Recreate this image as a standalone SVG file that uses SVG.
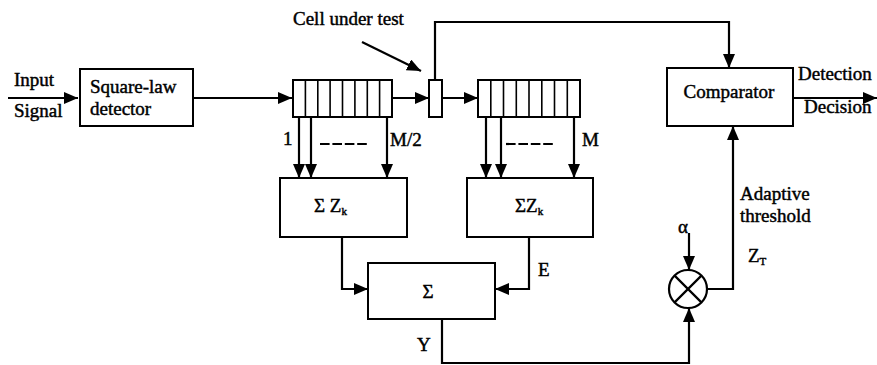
<svg xmlns="http://www.w3.org/2000/svg" width="877" height="365" viewBox="0 0 877 365">
<defs>
<style>
.box{fill:#fff;stroke:#000;stroke-width:2}
.ln{fill:none;stroke:#000;stroke-width:2.2}
.t{font-size:19px;fill:#000;stroke:#000;stroke-width:0.45}
.c{text-anchor:middle}
.cell{stroke:#000;stroke-width:1.6}
</style>
<marker id="ah" viewBox="0 0 14 12" refX="14" refY="6" markerWidth="14" markerHeight="12" markerUnits="userSpaceOnUse" orient="auto">
<path d="M0,0 L14,6 L0,12 Z" fill="#000"/>
</marker>
</defs>
<rect width="877" height="365" fill="#fff"/>

<g id="connectors">
<path class="ln" d="M8,98 H78" marker-end="url(#ah)"/>
<path class="ln" d="M193,98 H292" marker-end="url(#ah)"/>
<path class="ln" d="M392,98 H429" marker-end="url(#ah)"/>
<path class="ln" d="M442,98 H478" marker-end="url(#ah)"/>
<path class="ln" d="M435,80 V22 H729 V68" marker-end="url(#ah)"/>
<path class="ln" d="M793,98 H877" marker-end="url(#ah)"/>
<path class="ln" d="M362,42 L421,71" marker-end="url(#ah)"/>
<path class="ln" d="M299,117 V178" marker-end="url(#ah)"/>
<path class="ln" d="M311,117 V178" marker-end="url(#ah)"/>
<path class="ln" d="M387,117 V178" marker-end="url(#ah)"/>
<path class="ln" d="M486,117 V178" marker-end="url(#ah)"/>
<path class="ln" d="M501,117 V178" marker-end="url(#ah)"/>
<path class="ln" d="M574,117 V178" marker-end="url(#ah)"/>
<path class="ln" d="M342,237 V289 H368" marker-end="url(#ah)"/>
<path class="ln" d="M529,237 V289 H495" marker-end="url(#ah)"/>
<path class="ln" d="M442,319 V363 H689 V308" marker-end="url(#ah)"/>
<path class="ln" d="M689,233 V270" marker-end="url(#ah)"/>
<path class="ln" d="M707,289 H733 V126" marker-end="url(#ah)"/>
<path class="ln" d="M320,144 H368" stroke-dasharray="9.6 2.8" stroke-width="2.6"/>
<path class="ln" d="M506,144 H553" stroke-dasharray="9.6 2.8" stroke-width="2.6"/>
</g>

<g font-family="Liberation Serif, Times New Roman, serif">
<g id="input-label">
<text class="t" x="14" y="86">Input</text>
<text class="t" x="14" y="117">Signal</text>
</g>

<g id="square-law">
<rect class="box" x="80" y="69" width="113" height="57"/>
<text class="t" x="90" y="93">Square-law</text>
<text class="t" x="90" y="115">detector</text>
</g>

<g id="register1">
<rect class="box" x="293" y="80" width="99" height="37"/>
<path class="cell" d="M305.4,80V117M317.8,80V117M330.1,80V117M342.5,80V117M354.9,80V117M367.3,80V117M379.6,80V117"/>
<text class="t" x="283" y="145">1</text>
<text class="t" x="390" y="146">M/2</text>
</g>

<g id="cell-under-test">
<rect class="box" x="429" y="80" width="13" height="37"/>
<text class="t" x="293" y="25">Cell under test</text>
</g>

<g id="register2">
<rect class="box" x="478" y="80" width="102" height="37"/>
<path class="cell" d="M490.8,80V117M503.5,80V117M516.3,80V117M529,80V117M541.8,80V117M554.5,80V117M567.3,80V117"/>
<text class="t" x="582" y="146">M</text>
</g>

<g id="sum1">
<rect class="box" x="280" y="178" width="127" height="59"/>
<text class="t" x="314" y="212">Σ Z<tspan font-size="11" dy="3">k</tspan></text>
</g>

<g id="sum2">
<rect class="box" x="467" y="178" width="126" height="59"/>
<text class="t" x="515" y="212">ΣZ<tspan font-size="11" dy="3">k</tspan></text>
</g>

<g id="sum-total">
<rect class="box" x="368" y="263" width="127" height="56"/>
<text class="t c" x="428" y="298">Σ</text>
<text class="t" x="538" y="276">E</text>
<text class="t" x="417" y="351">Y</text>
</g>

<g id="multiplier">
<circle cx="688" cy="289" r="19" fill="#fff" stroke="#000" stroke-width="2.2"/>
<path class="ln" d="M674.6,275.6 L701.4,302.4 M701.4,275.6 L674.6,302.4"/>
<text class="t" x="678" y="233">α</text>
</g>

<g id="threshold-label">
<text class="t" x="740" y="200">Adaptive</text>
<text class="t" x="740" y="222">threshold</text>
<text class="t" x="748" y="262">Z<tspan font-size="11" dy="3">T</tspan></text>
</g>

<g id="comparator">
<rect class="box" x="667" y="68" width="126" height="58"/>
<text class="t c" x="729" y="98">Comparator</text>
<text class="t" x="798" y="80">Detection</text>
<text class="t" x="804" y="113">Decision</text>
</g>
</g>
</svg>
